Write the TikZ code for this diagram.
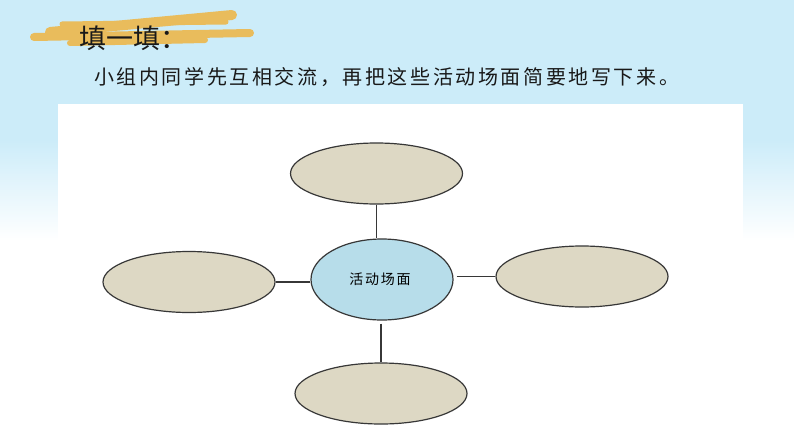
\documentclass[tikz,border=0pt]{standalone}
\usepackage{fontspec}
\usetikzlibrary{shapes.geometric}
\newfontfamily\cjktitle[LetterSpace=1]{Noto Sans CJK SC}
\newfontfamily\cjkbody[LetterSpace=13]{Noto Sans CJK SC}
\newfontfamily\cjksmall[LetterSpace=12]{Noto Sans CJK SC}
\definecolor{bgblue}{RGB}{204,236,249}
\definecolor{brush}{RGB}{233,188,92}
\definecolor{beige}{RGB}{221,216,196}
\definecolor{cblue}{RGB}{183,221,234}
\definecolor{edge}{RGB}{55,55,55}
\tikzset{
  bubble/.style={ellipse, draw=edge, line width=1.2pt, fill=beige, inner sep=0pt, minimum width=172pt, minimum height=61pt},
  hub/.style={ellipse, draw=edge, line width=1.2pt, fill=cblue, inner sep=0pt, minimum width=142pt, minimum height=81pt},
  link/.style={draw=edge, line width=1.1pt},
  brushstroke/.style={brush, line cap=round}
}
\begin{document}
\begin{tikzpicture}[x=1pt,y=-1pt]
\useasboundingbox (0,0) rectangle (794,447);
% background
\fill[white] (0,0) rectangle (794,447);
\fill[bgblue] (0,0) rectangle (794,140);
\shade[top color=bgblue, bottom color=white] (0,139.5) rectangle (794,240);
\fill[white] (58,104) rectangle (743,447);
% brush
\draw[brushstroke, line width=10pt] (50,32) -- (232,15);
\draw[brushstroke, line width=8pt] (34,37) -- (250,33);
\draw[brushstroke, line width=6pt] (70,43) -- (205,40);
\draw[brushstroke, line width=5pt] (62,24) -- (226,22);
% texts
\node[anchor=west, inner sep=0pt, text=black!90] (title) at (79,38) {\cjktitle\fontsize{27}{27}\selectfont 填一填：};
\node[anchor=west, inner sep=0pt, text=black!90] (instr) at (94,77) {\cjkbody\fontsize{20}{20}\selectfont 小组内同学先互相交流，再把这些活动场面简要地写下来。};
% diagram
\node[bubble] (top) at (376.5,173.5) {};
\node[bubble] (left) at (189,282) {};
\node[bubble] (right) at (582,276.5) {};
\node[bubble] (bottom) at (381,393.5) {};
\node[hub] (hubnode) at (382,279.5) {\cjksmall\fontsize{14}{14}\selectfont\hspace*{-4pt}活动场面};
\draw[link] (top.south) -- (hubnode.north -| top.south);
\draw[link, shorten <=3pt] (hubnode.south -| bottom.north) -- (bottom.north);
\draw[link] (left.east) -- (left.east -| hubnode.west);
\draw[link, shorten <=3pt] (right.west -| hubnode.east) -- (right.west);
\end{tikzpicture}
\end{document}
